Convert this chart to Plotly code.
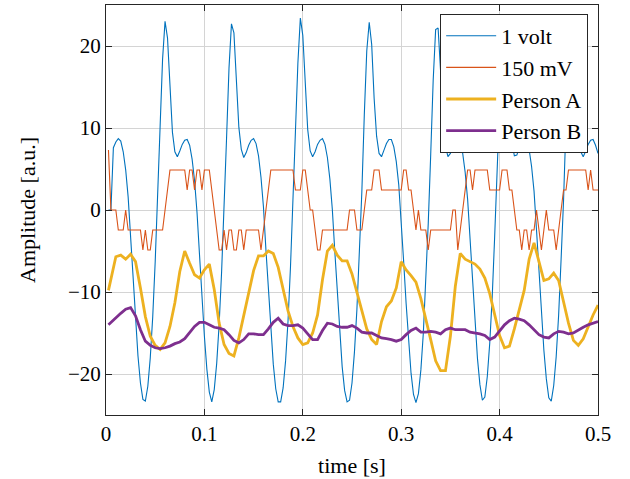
import numpy as np
import plotly.graph_objects as go

# Sample times: the two reference signals are sampled every 2.5 ms,
# the two persons' traces every 5 ms (first sample at 2.5 ms).
t_ref = np.arange(1, 201) * 0.0025
t_person = np.concatenate([[0.0025], np.arange(1, 101) * 0.005])

volt_1 = [
    0.0, 0.0, 7.6, 8.3, 8.7, 8.4, 7.1, 4.9, 1.6, -3.2,
    -8.4, -13.4, -17.8, -21.1, -23.1, -23.3, -21.5, -18.0, -13.0, -6.3,
    1.0, 10.2, 18.4, 23.0, 21.0, 14.5, 9.5, 7.1, 6.5, 7.2,
    8.0, 8.5, 8.6, 7.9, 6.2, 3.6, -0.3, -5.4, -10.6, -15.4,
    -19.4, -22.2, -23.4, -21.9, -18.7, -13.9, -7.5, -0.2, 8.7, 17.3,
    22.7, 21.6, 15.6, 10.1, 7.4, 6.4, 7.0, 7.9, 8.5, 8.7,
    8.1, 6.6, 4.0, 0.4, -4.8, -9.8, -14.7, -18.8, -21.8, -23.4,
    -23.4, -21.7, -18.4, -13.5, -6.9, 0.4, 9.5, 17.9, 23.4, 21.3,
    15.0, 9.8, 7.2, 6.5, 7.1, 8.0, 8.5, 8.7, 8.0, 6.4,
    3.8, 0.1, -5.0, -10.2, -15.1, -19.1, -22.0, -23.4, -23.2, -21.1,
    -17.3, -12.1, -5.0, 2.2, 11.6, 19.4, 22.9, 20.2, 13.6, 9.0,
    6.9, 6.5, 7.3, 8.1, 8.6, 8.6, 7.7, 5.9, 3.1, -1.1,
    -6.3, -11.4, -16.1, -19.9, -22.5, -23.5, -22.4, -19.5, -15.0, -8.9,
    -1.6, 6.8, 15.8, 22.0, 22.2, 17.0, 10.9, 7.8, 6.5, 6.9,
    7.7, 8.4, 8.7, 8.3, 6.9, 4.6, 1.3, -3.6, -8.8, -13.8,
    -18.1, -21.3, -23.2, -22.8, -20.3, -16.2, -10.6, -3.2, 4.5, 13.7,
    20.8, 22.6, 18.6, 12.2, 8.3, 6.6, 6.7, 7.6, 8.2, 8.6,
    8.5, 7.4, 5.3, 2.3, -2.4, -7.5, -12.6, -17.1, -20.6, -22.9,
    -23.3, -21.4, -17.9, -12.8, -6.0, 1.2, 10.6, 18.7, 22.9, 20.8,
    14.3, 9.3, 7.1, 6.5, 7.2, 8.0, 8.5, 8.6, 7.9, 6.9,
]

mv_150 = [
    7.32, 0, 0, 0, -2.44, -2.44, -2.44, 0, -2.44, -2.44,
    -2.44, -2.44, -2.44, -2.44, -4.88, -2.44, -4.88, -4.88, -2.44, -2.44,
    -2.44, -2.44, -2.44, 0, 2.44, 4.88, 4.88, 4.88, 4.88, 4.88,
    4.88, 4.88, 2.44, 4.88, 4.88, 2.44, 4.88, 4.88, 2.44, 4.88,
    4.88, 4.88, 2.44, 0, -2.44, -4.88, -4.88, -2.44, -4.88, -2.44,
    -2.44, -4.88, -4.88, -2.44, -2.44, -4.88, -2.44, -2.44, -2.44, -2.44,
    -2.44, -2.44, -4.88, -2.44, 0, 2.44, 4.88, 4.88, 4.88, 4.88,
    4.88, 4.88, 4.88, 4.88, 4.88, 4.88, 2.44, 2.44, 2.44, 4.88,
    4.88, 2.44, 0, 0, -2.44, -4.88, -4.88, -2.44, -2.44, -2.44,
    -2.44, -2.44, -2.44, -2.44, -2.44, -2.44, -2.44, -2.44, 0, 0,
    0, -2.44, -2.44, -2.44, 0, 2.44, 2.44, 2.44, 4.88, 4.88,
    4.88, 2.44, 2.44, 2.44, 2.44, 2.44, 2.44, 2.44, 2.44, 2.44,
    4.88, 4.88, 2.44, 2.44, 0, -2.44, 0, -2.44, -2.44, -2.44,
    -4.88, -2.44, -2.44, -2.44, -2.44, -2.44, -2.44, -2.44, -2.44, -2.44,
    0, 0, -4.88, -2.44, 0, 2.44, 4.88, 4.88, 2.44, 4.88,
    4.88, 4.88, 4.88, 4.88, 4.88, 2.44, 2.44, 2.44, 2.44, 2.44,
    4.88, 4.88, 4.88, 2.44, 2.44, 0, -2.44, -2.44, -4.88, -2.44,
    -2.44, -4.88, -2.44, -2.44, 0, -2.44, -4.88, -2.44, 0, -2.44,
    -2.44, -2.44, -4.88, -2.44, 0, 2.44, 2.44, 4.88, 4.88, 4.88,
    4.88, 4.88, 4.88, 4.88, 4.88, 2.44, 4.88, 2.44, 2.44, 2.44,
]

person_a = [
    -9.8,
    -8.3, -5.7, -5.5, -6.0, -5.4, -6.3, -9.5, -13.0, -15.4, -16.5,
    -17.0, -16.2, -14.2, -11.3, -7.5, -5.0, -6.5, -7.9, -8.3, -7.3,
    -6.6, -9.7, -13.8, -16.4, -17.5, -17.8, -15.6, -12.8, -10.2, -7.4,
    -5.6, -5.6, -5.0, -5.3, -7.0, -9.5, -12.3, -14.2, -15.6, -16.4,
    -16.2, -15.0, -12.8, -8.5, -5.0, -4.3, -5.5, -6.2, -6.2, -7.8,
    -10.0, -12.5, -14.5, -15.8, -16.4, -13.6, -11.8, -11.1, -9.5, -6.3,
    -7.3, -8.0, -8.8, -10.8, -13.2, -15.8, -18.4, -19.6, -19.6, -15.4,
    -9.3, -5.3, -6.0, -6.3, -6.6, -7.2, -8.3, -10.2, -12.8, -15.3,
    -16.8, -16.6, -14.5, -12.2, -9.8, -6.0, -4.0, -6.3, -8.6, -8.4,
    -7.7, -8.6, -11.4, -13.8, -15.9, -16.5, -15.7, -14.2, -12.8, -11.6,
]

person_b = [
    -14.0,
    -13.7, -13.1, -12.6, -12.1, -11.9, -12.9, -14.6, -16.0, -16.5, -16.8,
    -16.9, -16.8, -16.6, -16.3, -16.1, -15.7, -15.0, -14.2, -13.7, -13.7,
    -14.0, -14.3, -14.4, -14.6, -15.2, -15.9, -16.2, -15.8, -15.1, -15.1,
    -15.2, -15.2, -14.5, -13.7, -13.2, -13.9, -14.1, -14.1, -14.0, -14.4,
    -15.1, -15.8, -15.8, -14.7, -13.8, -13.9, -14.2, -14.3, -14.3, -14.1,
    -14.4, -14.9, -15.0, -15.0, -15.3, -15.6, -15.7, -15.8, -16.0, -15.8,
    -15.2, -14.7, -14.4, -14.9, -14.9, -14.8, -14.9, -15.1, -14.6, -14.4,
    -14.6, -14.6, -14.6, -14.9, -15.0, -15.1, -15.3, -15.8, -15.5, -14.8,
    -14.0, -13.5, -13.2, -13.3, -13.5, -14.0, -14.6, -15.2, -15.5, -15.6,
    -15.1, -14.8, -14.9, -15.1, -15.0, -14.6, -14.3, -14.0, -13.8, -13.6,
]

x_ticks = [0, 0.1, 0.2, 0.3, 0.4, 0.5]
y_ticks = [-20, -10, 0, 10, 20]

FONT = "Liberation Serif, Times New Roman, serif"

fig = go.Figure()
fig.add_trace(go.Scatter(x=t_ref, y=volt_1, mode="lines", name="1 volt",
                         line=dict(color="#0072BD", width=1.1)))
fig.add_trace(go.Scatter(x=t_ref, y=mv_150, mode="lines", name="150 mV",
                         line=dict(color="#D95319", width=1.1)))
fig.add_trace(go.Scatter(x=t_person, y=person_a, mode="lines", name="Person A",
                         line=dict(color="#EDB120", width=2.8)))
fig.add_trace(go.Scatter(x=t_person, y=person_b, mode="lines", name="Person B",
                         line=dict(color="#7E2F8E", width=2.8)))

axis_common = dict(
    showline=True, linecolor="#262626", linewidth=1, mirror="ticks",
    ticks="inside", ticklen=6, tickcolor="#262626", tickwidth=1,
    showgrid=True, gridcolor="#d4d4d4", gridwidth=1,
    zeroline=False,
    tickfont=dict(family=FONT, size=21, color="black"),
)

fig.update_xaxes(range=[0, 0.5], tickvals=x_ticks,
                 ticktext=[f"{v:g}" for v in x_ticks],
                 title=dict(text="time [s]", font=dict(family=FONT, size=22, color="black"),
                            standoff=12),
                 **axis_common)
fig.update_yaxes(range=[-25, 25], tickvals=y_ticks,
                 title=dict(text="Amplitude [a.u.]", font=dict(family=FONT, size=22, color="black"),
                            standoff=26),
                 **axis_common)

fig.update_layout(
    width=630, height=479,
    margin=dict(l=106, r=32, t=5, b=64),
    paper_bgcolor="white", plot_bgcolor="white",
    font=dict(family=FONT, size=21, color="black"),
    legend=dict(x=0.98, y=0.978, xanchor="right", yanchor="top",
                bgcolor="white", bordercolor="#262626", borderwidth=1,
                font=dict(family=FONT, size=22, color="black"),
                itemwidth=50, tracegroupgap=0),
    showlegend=True,
)

fig.write_html("out.html")
